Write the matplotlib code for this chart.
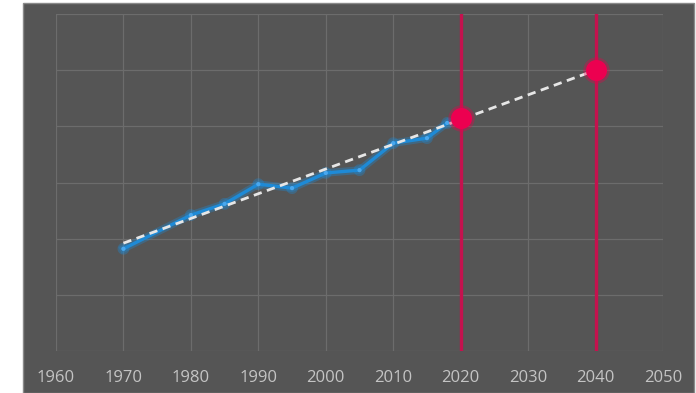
import matplotlib.pyplot as plt
import matplotlib.patheffects as pe
from matplotlib.patches import Rectangle

# observed series
years = [1970, 1980, 1985, 1990, 1995, 2000, 2005, 2010, 2015, 2018]
values = [18.2, 24.2, 26.2, 29.7, 29.0, 31.7, 32.2, 37.0, 37.9, 40.6]

# linear trend and the two projection points
trend_years = [1970, 2040]
trend_values = [19.2, 50.0]
mark_years = [2020, 2040]
mark_values = [41.4, 50.0]

xticks = [1960, 1970, 1980, 1990, 2000, 2010, 2020, 2030, 2040, 2050]

plt.rcParams['font.family'] = ['Open Sans', 'DejaVu Sans']

fig = plt.figure(figsize=(6.96, 3.93), dpi=100)
fig.patch.set_facecolor("white")
panel = Rectangle((23 / 696, 0), 671 / 696, 390 / 393, transform=fig.transFigure,
                  facecolor="#555555", edgecolor="#8a8a8a", linewidth=1, zorder=-1)
fig.patches.append(panel)

ax = fig.add_axes([56 / 696, 42 / 393, 607 / 696, 337 / 393])
ax.set_facecolor("none")
ax.set_xlim(1960, 2050)
ax.set_ylim(0, 60)
ax.set_xticks(xticks)
ax.set_yticks([0, 10, 20, 30, 40, 50, 60])
ax.set_yticklabels([])
ax.tick_params(axis="x", length=0, pad=14, labelsize=12, labelcolor="#c4c4c4")
ax.tick_params(axis="y", length=0)
for s in ax.spines.values():
    s.set_visible(False)
ax.grid(color="#6c6c6c", linewidth=0.9)
ax.set_axisbelow(True)

for yr in mark_years:
    ax.axvline(yr, color="#c4124e", linewidth=2.4, zorder=2)

ax.plot(years, values, color="#1e8ad6", linewidth=2.4, marker="o", markersize=3,
        markerfacecolor="#4aa8ee", markeredgewidth=0, zorder=3,
        path_effects=[pe.Stroke(linewidth=5.5, foreground="#1e8ad6", alpha=0.35), pe.Normal()])

ax.plot(trend_years, trend_values, color="#e6e6e6", linewidth=2, dashes=(3, 2), zorder=4)

ax.scatter(mark_years, mark_values, s=360, color="#e8004c", alpha=0.35, linewidths=0, zorder=5)
ax.scatter(mark_years, mark_values, s=230, color="#ec0050", linewidths=0, zorder=6)

fig.savefig("out.png", dpi=100)
